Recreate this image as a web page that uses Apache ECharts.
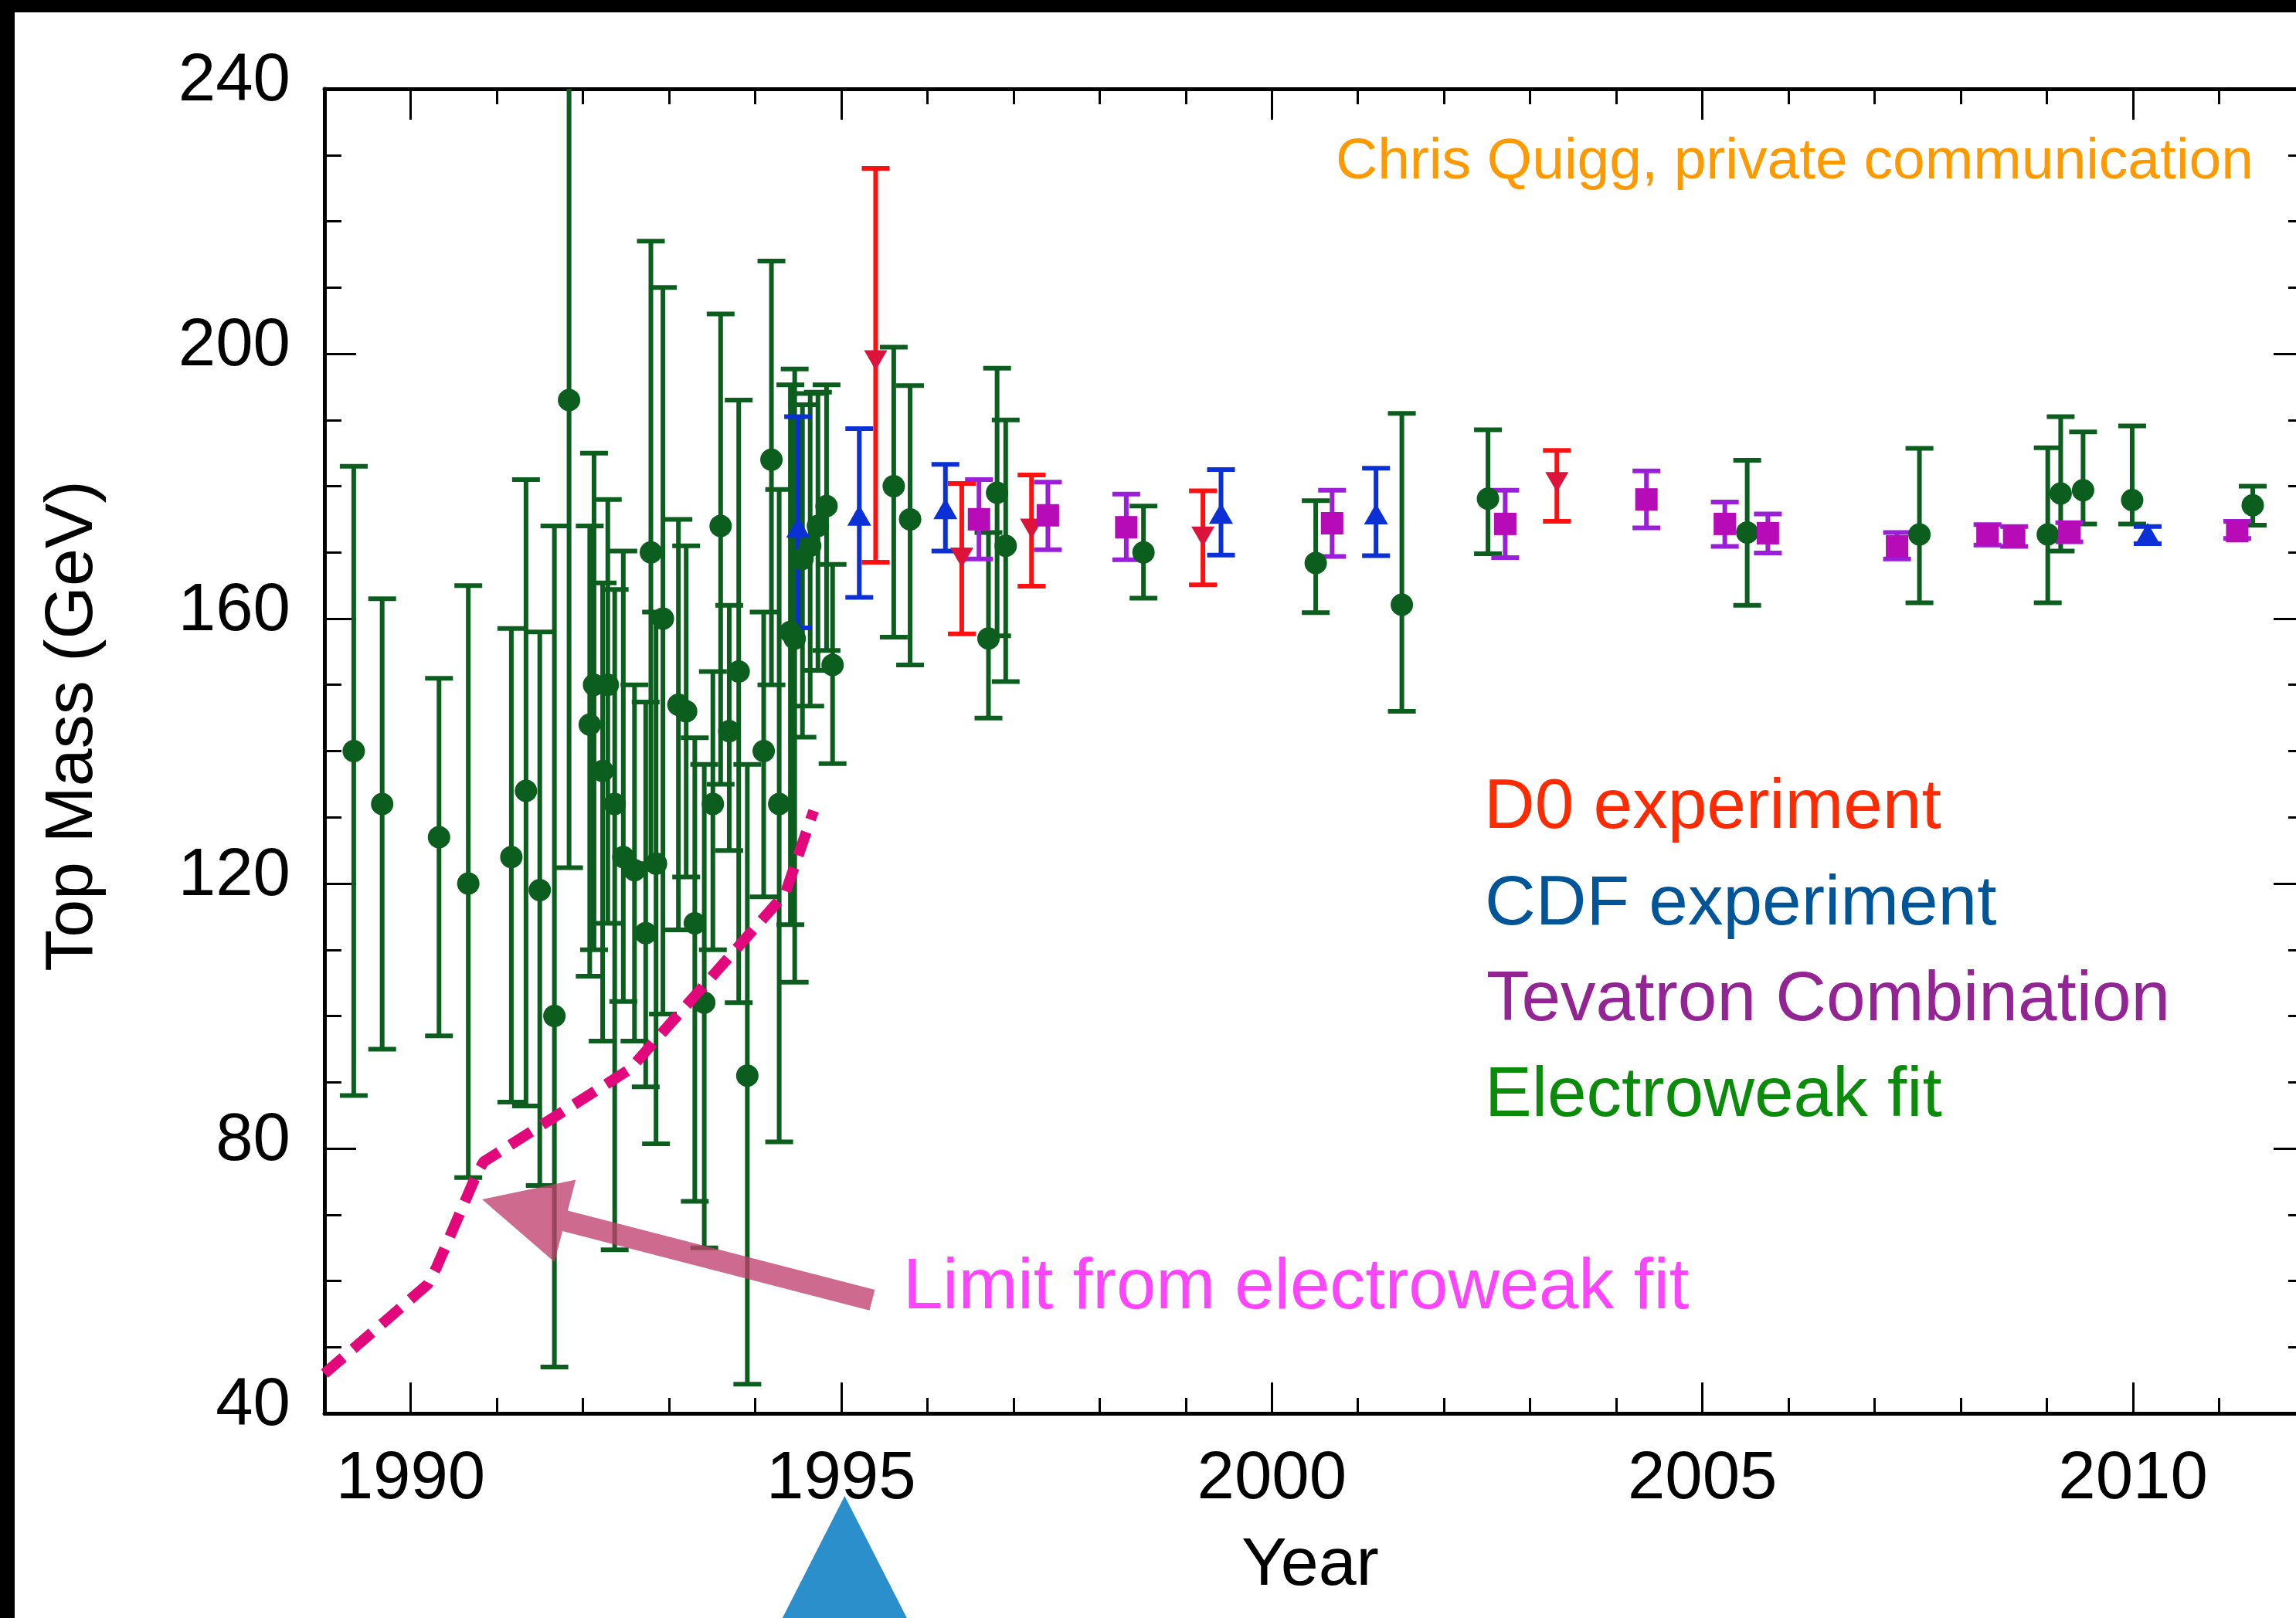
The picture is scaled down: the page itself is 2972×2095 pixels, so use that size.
<!DOCTYPE html>
<html>
<head>
<meta charset="utf-8">
<title>Top Mass vs Year</title>
<script src="https://cdn.jsdelivr.net/npm/echarts@6/dist/echarts.min.js"></script>
<style>
    html, body { margin: 0; padding: 0; background: #fff; overflow: hidden; }
    /* a little wider than the window: the right frame of the plot sits just past the edge */
    #main { width: 3000px; height: 2095px; }
</style>
</head>
<body>
<div id="main"></div>
<script>
    // axis ranges and ticks
    const xMin = 1989, xMax = 2012
    const yMin = 40, yMax = 240
    const yearTicks = [1990, 1995, 2000, 2005, 2010]

    // Electroweak fit (green circles): year, mass, upper end, lower end
    const ewYear = [1989.34, 1989.67, 1990.33, 1990.67, 1991.17, 1991.34, 1991.50, 1991.67, 1991.84, 1992.08,
        1992.13, 1992.23, 1992.29, 1992.37, 1992.47, 1992.60, 1992.73, 1992.79, 1992.85, 1992.93,
        1993.11, 1993.20, 1993.30, 1993.41, 1993.51, 1993.60, 1993.70, 1993.81, 1993.91, 1994.10,
        1994.19, 1994.28, 1994.41, 1994.46, 1994.55, 1994.64, 1994.73, 1994.83, 1994.90, 1995.61,
        1995.80, 1996.71, 1996.81, 1996.91, 1998.51, 2000.51, 2001.51, 2002.51, 2005.52, 2007.52,
        2009.01, 2009.16, 2009.42, 2009.99, 2011.39]
    const ewMass = [140, 132, 127, 120, 124, 134, 119, 100, 193, 144,
        150, 137, 150, 132, 124, 122, 112.5, 170, 123, 160,
        147, 146, 114, 102, 132, 174, 143, 152, 91, 140,
        184, 132, 158, 157, 169, 171, 174, 177, 153, 180,
        175, 157, 179, 171, 170, 168.4, 162.1, 178.1, 173, 172.7,
        172.7, 178.9, 179.4, 177.9, 177.1]
    const ewHigh = [183, 163, 151, 165, 158.5, 181, 158, 174, 263, 174,
        185, 165.4, 178, 164.4, 170.2, 150, 147.4, 217, 161, 210,
        175, 171, 142, 138, 152, 206, 162, 193, 138, 161,
        214, 179.5, 195.3, 197.7, 192.3, 194, 194.2, 195.3, 168.2, 201,
        195.2, 173, 197.8, 190, 177, 177.8, 191, 188.5, 183.9, 185.7,
        185.8, 190.5, 188.2, 189.1, 180]
    const ewLow = [88, 95, 97, 75.6, 87, 86.4, 74.4, 47, 122.4, 106,
        110, 96.2, 114, 64.7, 102.2, 96.2, 89.3, 123, 80.7, 100.3,
        113, 121, 72, 65, 110, 135, 125, 102, 44.4, 118,
        150, 81, 113.8, 105.1, 142.1, 146.8, 152.2, 155.2, 138.1, 157.2,
        153, 145, 157.4, 150.5, 163.1, 160.9, 146, 169.8, 162, 162.4,
        162.4, 170.2, 174.3, 174.3, 174.1]

    // CDF experiment (blue triangles)
    const cdfYear = [1994.50, 1995.21, 1996.21, 1999.41, 2001.21, 2010.17]
    const cdfMass = [173.8, 175.6, 176.6, 175.9, 175.8, 172.9]
    const cdfHigh = [190.5, 188.7, 183.3, 182.5, 182.7, 173.9]
    const cdfLow = [158.6, 163.2, 170.2, 169.6, 169.5, 171.3]

    // D0 experiment (red down triangles)
    const d0Year = [1995.40, 1996.40, 1997.21, 1999.20, 2003.31]
    const d0Mass = [199, 169.2, 173.6, 172.4, 180.6]
    const d0High = [228, 180.4, 181.7, 179.3, 185.4]
    const d0Low = [168.5, 157.7, 164.9, 165.1, 174.7]

    // Tevatron combination (purple squares)
    const tevYear = [1996.60, 1997.40, 1998.31, 2000.70, 2002.71, 2004.35, 2005.26, 2005.76, 2007.26, 2008.31, 2008.62, 2009.26, 2011.21]
    const tevMass = [175, 175.6, 173.8, 174.4, 174.3, 178.0, 174.3, 172.9, 170.9, 172.7, 172.4, 173.1, 173.2]
    const tevHigh = [181, 180.6, 178.8, 179.4, 179.4, 182.3, 177.6, 175.8, 173, 174.2, 173.9, 174.5, 174.7]
    const tevLow = [169, 170.4, 168.9, 169.4, 169.2, 173.7, 170.9, 169.9, 169, 171.1, 170.9, 171.6, 172.1]

    // lower limit from the electroweak fit (pink dashed curve)
    const limitYear = [1989.0, 1990.2, 1990.3, 1990.78, 1990.85, 1992.55, 1994.35, 1994.68]
    const limitMass = [46, 59.5, 62, 76.5, 78, 92, 118.5, 131]

    // annotations
    const arrowTip = [1990.83, 72.3]
    const arrowTail = [1995.36, 57.1]
    const discoveryYear = 1995.04

    const font = '"Liberation Sans", Arial, Helvetica, sans-serif'

    function pairs(xs, ys) {
        return xs.map((x, i) => [x, ys[i]])
    }

    function errorBars(name, xs, lows, highs, color) {
        return {
            name: name,
            type: 'custom',
            clip: true,
            silent: true,
            z: 2,
            data: xs.map((x, i) => [x, lows[i], highs[i]]),
            encode: { x: 0, y: [1, 2] },
            renderItem: function (params, api) {
                const lo = api.coord([api.value(0), api.value(1)])
                const hi = api.coord([api.value(0), api.value(2)])
                const hw = 18
                const style = { stroke: color, lineWidth: 6, fill: null }
                return {
                    type: 'group',
                    children: [
                        { type: 'line', shape: { x1: hi[0], y1: hi[1], x2: lo[0], y2: lo[1] }, style: style },
                        { type: 'line', shape: { x1: hi[0] - hw, y1: hi[1], x2: hi[0] + hw, y2: hi[1] }, style: style },
                        { type: 'line', shape: { x1: lo[0] - hw, y1: lo[1], x2: lo[0] + hw, y2: lo[1] }, style: style }
                    ]
                }
            }
        }
    }

    function text(str, x, y, size, color) {
        return {
            type: 'text', x: x, y: y, z: 50,
            style: {
                text: str, fill: color, fontSize: size, fontFamily: font,
                align: 'left', textAlign: 'left', verticalAlign: 'middle', textVerticalAlign: 'middle'
            }
        }
    }

    const tickStyle = { color: '#000', width: 3 }
    const lineStyle = { color: '#000', width: 5 }

    function xAxisPair(pos, labels) {
        return [{
            type: 'value', position: pos, min: xMin, max: xMax,
            axisLine: { show: true, onZero: false, lineStyle: lineStyle },
            axisTick: { show: true, inside: true, length: 40, customValues: yearTicks, lineStyle: tickStyle },
            axisLabel: {
                show: labels, customValues: yearTicks, margin: 43,
                fontSize: 87, color: '#000', fontFamily: font,
                formatter: function (v) { return String(v) }
            },
            splitLine: { show: false }
        }, {
            type: 'value', position: pos, min: xMin, max: xMax, interval: 1,
            axisLine: { show: false, onZero: false },
            axisTick: { show: true, inside: true, length: 20, lineStyle: tickStyle },
            axisLabel: { show: false },
            splitLine: { show: false }
        }]
    }

    function yAxisOne(pos, labels) {
        return {
            type: 'value', position: pos, min: yMin, max: yMax, interval: 40,
            axisLine: { show: true, onZero: false, lineStyle: lineStyle },
            axisTick: { show: true, inside: true, length: 41, lineStyle: tickStyle },
            minorTick: { show: true, splitNumber: 4, length: 22, lineStyle: tickStyle },
            axisLabel: {
                show: labels, margin: 44, fontSize: 87, color: '#000', fontFamily: font,
                verticalAlign: 'bottom', lineHeight: 18
            },
            splitLine: { show: false }
        }
    }

    const chart = echarts.init(document.getElementById('main'))
    chart.setOption({
        animation: false,
        backgroundColor: '#fff',
        grid: { left: 420, top: 115, width: 2564, height: 1715 },
        xAxis: xAxisPair('bottom', true).concat(xAxisPair('top', false)),
        yAxis: [yAxisOne('left', true), yAxisOne('right', false)],
        series: [
            errorBars('ewBars', ewYear, ewLow, ewHigh, '#0b5e1e'),
            errorBars('cdfBars', cdfYear, cdfLow, cdfHigh, '#0a30d6'),
            errorBars('d0Bars', d0Year, d0Low, d0High, '#ff1010'),
            errorBars('tevBars', tevYear, tevLow, tevHigh, '#9b1ed8'),
            {
                name: 'Electroweak fit', type: 'scatter', z: 3, silent: true,
                symbol: 'circle', symbolSize: 29,
                itemStyle: { color: '#0b5e1e', opacity: 1 },
                data: pairs(ewYear, ewMass)
            },
            {
                name: 'CDF experiment', type: 'scatter', z: 3, silent: true,
                symbol: 'triangle', symbolSize: [31, 27],
                itemStyle: { color: '#0a30d6', opacity: 1 },
                data: pairs(cdfYear, cdfMass)
            },
            {
                name: 'D0 experiment', type: 'scatter', z: 3, silent: true,
                symbol: 'triangle', symbolRotate: 180, symbolSize: [30, 26],
                itemStyle: { color: '#dc143c', opacity: 1 },
                data: pairs(d0Year, d0Mass)
            },
            {
                name: 'Tevatron Combination', type: 'scatter', z: 3, silent: true,
                symbol: 'rect', symbolSize: 29,
                itemStyle: { color: '#b80bb8', opacity: 1 },
                data: pairs(tevYear, tevMass)
            },
            {
                name: 'Limit from electroweak fit', type: 'line', z: 4, silent: true,
                symbol: 'none', smooth: false,
                lineStyle: { color: '#e2087c', width: 14, type: [32, 17], cap: 'butt' },
                data: pairs(limitYear, limitMass)
            }
        ]
    })

    // annotations that depend on the axes
    const tip = chart.convertToPixel({ xAxisIndex: 0, yAxisIndex: 0 }, arrowTip)
    const tail = chart.convertToPixel({ xAxisIndex: 0, yAxisIndex: 0 }, arrowTail)
    const dx = tip[0] - tail[0], dy = tip[1] - tail[1]
    const len = Math.sqrt(dx * dx + dy * dy)
    const ux = dx / len, uy = dy / len
    const nx = -uy, ny = ux
    const headLen = 111, headHalf = 55, shaftHalf = 13.7
    const bx = tip[0] - ux * headLen, by = tip[1] - uy * headLen
    const arrowPoints = [
        [tail[0] + nx * shaftHalf, tail[1] + ny * shaftHalf],
        [bx + nx * shaftHalf, by + ny * shaftHalf],
        [bx + nx * headHalf, by + ny * headHalf],
        [tip[0], tip[1]],
        [bx - nx * headHalf, by - ny * headHalf],
        [bx - nx * shaftHalf, by - ny * shaftHalf],
        [tail[0] - nx * shaftHalf, tail[1] - ny * shaftHalf]
    ]
    const apexX = chart.convertToPixel({ xAxisIndex: 0 }, discoveryYear)

    chart.setOption({
        graphic: [
            // black frame edges of the original screenshot
            { type: 'rect', shape: { x: 0, y: 0, width: 3000, height: 16 }, style: { fill: '#000' }, z: 60 },
            { type: 'rect', shape: { x: 0, y: 0, width: 19, height: 2095 }, style: { fill: '#000' }, z: 60 },
            // discovery marker below the axis
            {
                type: 'polygon', z: 1,
                shape: { points: [[apexX, 1937], [apexX - 134, 2200], [apexX + 134, 2200]] },
                style: { fill: '#2a8fcb' }
            },
            // arrow pointing at the limit curve
            {
                type: 'polygon', z: 40,
                shape: { points: arrowPoints },
                style: { fill: '#c0406e', opacity: 0.78 }
            },
            text('Chris Quigg, private communication', 1729, 210, 75, '#ff9900'),
            text('D0 experiment', 1921, 1047, 91, '#ff2a00'),
            text('CDF experiment', 1922, 1172, 91, '#005598'),
            text('Tevatron Combination', 1924, 1296, 91, '#932494'),
            text('Electroweak fit', 1922, 1420, 91, '#0a8c0a'),
            text('Limit from electroweak fit', 1169, 1669, 92, '#ff44ff'),
            {
                type: 'text', x: 1696, y: 2028, z: 50,
                style: {
                    text: 'Year', fill: '#000', fontSize: 88, fontFamily: font,
                    align: 'center', textAlign: 'center', verticalAlign: 'middle', textVerticalAlign: 'middle'
                }
            },
            {
                type: 'text', x: 95, y: 940, z: 50, rotation: Math.PI / 2,
                style: {
                    text: 'Top Mass (GeV)', fill: '#000', fontSize: 88, fontFamily: font,
                    align: 'center', textAlign: 'center', verticalAlign: 'middle', textVerticalAlign: 'middle'
                }
            }
        ]
    })
</script>
</body>
</html>
